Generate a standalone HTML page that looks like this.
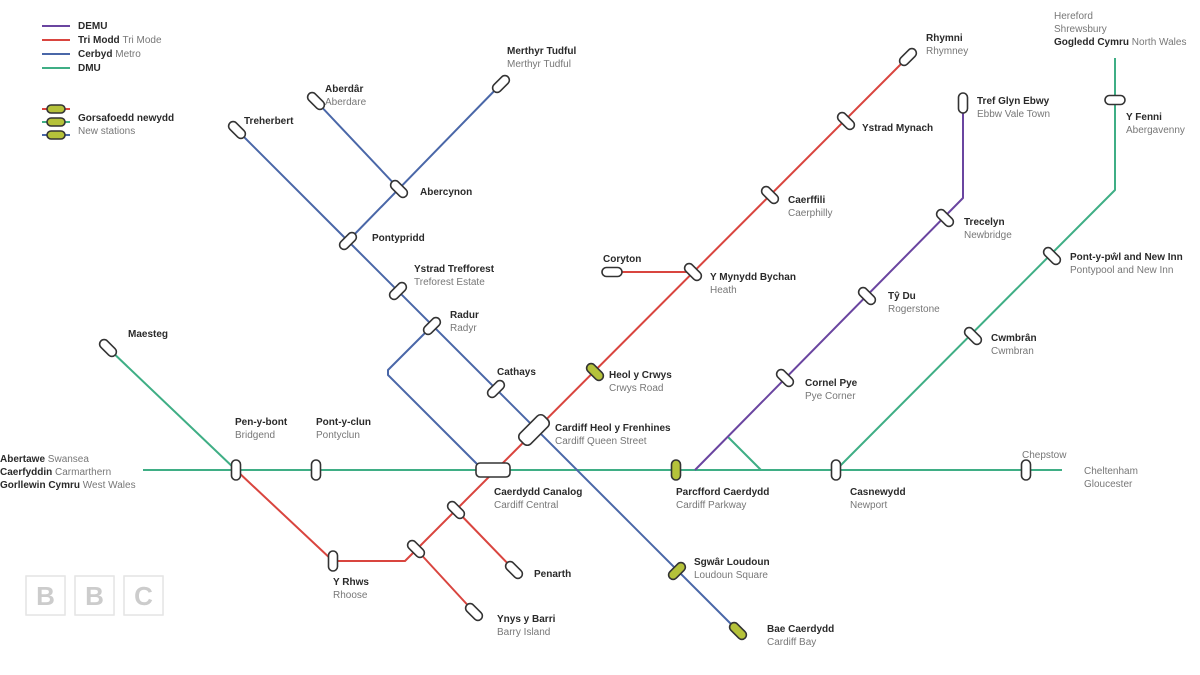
<!DOCTYPE html>
<html><head><meta charset="utf-8"><style>
html,body{margin:0;padding:0;background:#fff;}
svg{display:block;font-family:"Liberation Sans",sans-serif;}
.b{font-size:10px;font-weight:bold;fill:#2a2a2a;}
.g{font-size:10px;fill:#777;}
.st{fill:#fff;stroke:#333;stroke-width:1.6;}
.nw{fill:#b5c23a;stroke:#333;stroke-width:1.6;}
</style></head><body>
<svg width="1200" height="675" viewBox="0 0 1200 675">
<rect width="1200" height="675" fill="#fff"/>
<g fill="none" stroke-width="2" stroke-linejoin="round">
<!-- green -->
<path d="M143 470H1062" stroke="#3fae85"/>
<path d="M108 348L236 470" stroke="#3fae85"/>
<path d="M1115 58V190L836 470" stroke="#3fae85"/>
<path d="M728 437L761 470" stroke="#3fae85"/>
<!-- red -->
<path d="M908 57L405 561H333L236 470" stroke="#d9453f"/>
<path d="M416 549L474 612" stroke="#d9453f"/>
<path d="M456 510L514 570" stroke="#d9453f"/>
<path d="M612 272H693" stroke="#d9453f"/>
<!-- blue -->
<path d="M237 130L348 241L738 631" stroke="#4a67a8"/>
<path d="M316 101L399 189" stroke="#4a67a8"/>
<path d="M501 84L348 241" stroke="#4a67a8"/>
<path d="M432 326L388 370V375L483 470" stroke="#4a67a8"/>
<!-- purple -->
<path d="M963 103V198L695 470" stroke="#6a45a0"/>
</g>
<!-- legend -->
<g stroke-width="2">
<line x1="42" y1="26" x2="70" y2="26" stroke="#6a45a0"/>
<line x1="42" y1="40" x2="70" y2="40" stroke="#d9453f"/>
<line x1="42" y1="54" x2="70" y2="54" stroke="#4a67a8"/>
<line x1="42" y1="68" x2="70" y2="68" stroke="#3fae85"/>
<line x1="42" y1="109" x2="70" y2="109" stroke="#d9453f"/>
<line x1="42" y1="122" x2="70" y2="122" stroke="#3fae85"/>
<line x1="42" y1="135" x2="70" y2="135" stroke="#4a67a8"/>
</g>
<rect x="47" y="105" width="18" height="8" rx="4" class="nw"/>
<rect x="47" y="118" width="18" height="8" rx="4" class="nw"/>
<rect x="47" y="131" width="18" height="8" rx="4" class="nw"/>
<text x="78" y="29" class="b">DEMU</text>
<text x="78" y="43" class="b">Tri Modd <tspan class="g" font-weight="normal">Tri Mode</tspan></text>
<text x="78" y="57" class="b">Cerbyd <tspan class="g" font-weight="normal">Metro</tspan></text>
<text x="78" y="71" class="b">DMU</text>
<text x="78" y="121" class="b">Gorsafoedd newydd</text>
<text x="78" y="134" class="g">New stations</text>
<!-- stations -->
<g>
<rect class="st" x="-10" y="-4.5" width="20" height="9" rx="4.5" transform="translate(237,130) rotate(45)"/>
<rect class="st" x="-10" y="-4.5" width="20" height="9" rx="4.5" transform="translate(316,101) rotate(45)"/>
<rect class="st" x="-10" y="-4.5" width="20" height="9" rx="4.5" transform="translate(501,84) rotate(-45)"/>
<rect class="st" x="-10" y="-4.5" width="20" height="9" rx="4.5" transform="translate(399,189) rotate(45)"/>
<rect class="st" x="-10" y="-4.5" width="20" height="9" rx="4.5" transform="translate(348,241) rotate(-45)"/>
<rect class="st" x="-10" y="-4.5" width="20" height="9" rx="4.5" transform="translate(398,291) rotate(-45)"/>
<rect class="st" x="-10" y="-4.5" width="20" height="9" rx="4.5" transform="translate(432,326) rotate(-45)"/>
<rect class="st" x="-10" y="-4.5" width="20" height="9" rx="4.5" transform="translate(496,389) rotate(-45)"/>
<rect class="st" x="-17" y="-7.5" width="34" height="15" rx="5" transform="translate(534,430) rotate(-45)"/>
<rect class="nw" x="-10" y="-4.5" width="20" height="9" rx="4.5" transform="translate(677,571) rotate(-45)"/>
<rect class="nw" x="-10" y="-4.5" width="20" height="9" rx="4.5" transform="translate(738,631) rotate(45)"/>
<rect class="st" x="-10" y="-4.5" width="20" height="9" rx="4.5" transform="translate(908,57) rotate(-45)"/>
<rect class="st" x="-10" y="-4.5" width="20" height="9" rx="4.5" transform="translate(846,121) rotate(45)"/>
<rect class="st" x="-10" y="-4.5" width="20" height="9" rx="4.5" transform="translate(770,195) rotate(45)"/>
<rect class="st" x="-10" y="-4.5" width="20" height="9" rx="4.5" transform="translate(693,272) rotate(45)"/>
<rect class="st" x="-10" y="-4.5" width="20" height="9" rx="4.5" transform="translate(612,272)"/>
<rect class="nw" x="-10" y="-4.5" width="20" height="9" rx="4.5" transform="translate(595,372) rotate(45)"/>
<rect class="st" x="-10" y="-4.5" width="20" height="9" rx="4.5" transform="translate(456,510) rotate(45)"/>
<rect class="st" x="-10" y="-4.5" width="20" height="9" rx="4.5" transform="translate(416,549) rotate(45)"/>
<rect class="st" x="-10" y="-4.5" width="20" height="9" rx="4.5" transform="translate(514,570) rotate(45)"/>
<rect class="st" x="-10" y="-4.5" width="20" height="9" rx="4.5" transform="translate(474,612) rotate(45)"/>
<rect class="st" x="-10" y="-4.5" width="20" height="9" rx="4.5" transform="translate(333,561) rotate(90)"/>
<rect class="st" x="-10" y="-4.5" width="20" height="9" rx="4.5" transform="translate(108,348) rotate(45)"/>
<rect class="st" x="-10" y="-4.5" width="20" height="9" rx="4.5" transform="translate(236,470) rotate(90)"/>
<rect class="st" x="-10" y="-4.5" width="20" height="9" rx="4.5" transform="translate(316,470) rotate(90)"/>
<rect class="st" x="-17" y="-7" width="34" height="14" rx="4" transform="translate(493,470)"/>
<rect class="nw" x="-10" y="-4.5" width="20" height="9" rx="4.5" transform="translate(676,470) rotate(90)"/>
<rect class="st" x="-10" y="-4.5" width="20" height="9" rx="4.5" transform="translate(836,470) rotate(90)"/>
<rect class="st" x="-10" y="-4.5" width="20" height="9" rx="4.5" transform="translate(1026,470) rotate(90)"/>
<rect class="st" x="-10" y="-4.5" width="20" height="9" rx="4.5" transform="translate(963,103) rotate(90)"/>
<rect class="st" x="-10" y="-4.5" width="20" height="9" rx="4.5" transform="translate(945,218) rotate(45)"/>
<rect class="st" x="-10" y="-4.5" width="20" height="9" rx="4.5" transform="translate(867,296) rotate(45)"/>
<rect class="st" x="-10" y="-4.5" width="20" height="9" rx="4.5" transform="translate(785,378) rotate(45)"/>
<rect class="st" x="-10" y="-4.5" width="20" height="9" rx="4.5" transform="translate(1115,100)"/>
<rect class="st" x="-10" y="-4.5" width="20" height="9" rx="4.5" transform="translate(1052,256) rotate(45)"/>
<rect class="st" x="-10" y="-4.5" width="20" height="9" rx="4.5" transform="translate(973,336) rotate(45)"/>
</g>
<!-- labels -->
<text x="244" y="124" class="b">Treherbert</text>
<text x="325" y="92" class="b">Aberdâr</text><text x="325" y="105" class="g">Aberdare</text>
<text x="507" y="54" class="b">Merthyr Tudful</text><text x="507" y="67" class="g">Merthyr Tudful</text>
<text x="420" y="195" class="b">Abercynon</text>
<text x="372" y="241" class="b">Pontypridd</text>
<text x="414" y="272" class="b">Ystrad Trefforest</text><text x="414" y="285" class="g">Treforest Estate</text>
<text x="450" y="318" class="b">Radur</text><text x="450" y="331" class="g">Radyr</text>
<text x="497" y="375" class="b">Cathays</text>
<text x="555" y="431" class="b">Cardiff Heol y Frenhines</text><text x="555" y="444" class="g">Cardiff Queen Street</text>
<text x="494" y="495" class="b">Caerdydd Canalog</text><text x="494" y="508" class="g">Cardiff Central</text>
<text x="694" y="565" class="b">Sgwâr Loudoun</text><text x="694" y="578" class="g">Loudoun Square</text>
<text x="767" y="632" class="b">Bae Caerdydd</text><text x="767" y="645" class="g">Cardiff Bay</text>
<text x="926" y="41" class="b">Rhymni</text><text x="926" y="54" class="g">Rhymney</text>
<text x="862" y="131" class="b">Ystrad Mynach</text>
<text x="788" y="203" class="b">Caerffili</text><text x="788" y="216" class="g">Caerphilly</text>
<text x="710" y="280" class="b">Y Mynydd Bychan</text><text x="710" y="293" class="g">Heath</text>
<text x="603" y="262" class="b">Coryton</text>
<text x="609" y="378" class="b">Heol y Crwys</text><text x="609" y="391" class="g">Crwys Road</text>
<text x="534" y="577" class="b">Penarth</text>
<text x="497" y="622" class="b">Ynys y Barri</text><text x="497" y="635" class="g">Barry Island</text>
<text x="333" y="585" class="b">Y Rhws</text><text x="333" y="598" class="g">Rhoose</text>
<text x="128" y="337" class="b">Maesteg</text>
<text x="235" y="425" class="b">Pen-y-bont</text><text x="235" y="438" class="g">Bridgend</text>
<text x="316" y="425" class="b">Pont-y-clun</text><text x="316" y="438" class="g">Pontyclun</text>
<text x="0" y="462" class="b">Abertawe <tspan class="g" font-weight="normal">Swansea</tspan></text>
<text x="0" y="475" class="b">Caerfyddin <tspan class="g" font-weight="normal">Carmarthern</tspan></text>
<text x="0" y="488" class="b">Gorllewin Cymru <tspan class="g" font-weight="normal">West Wales</tspan></text>
<text x="676" y="495" class="b">Parcfford Caerdydd</text><text x="676" y="508" class="g">Cardiff Parkway</text>
<text x="850" y="495" class="b">Casnewydd</text><text x="850" y="508" class="g">Newport</text>
<text x="1022" y="458" class="g">Chepstow</text>
<text x="1084" y="474" class="g">Cheltenham</text><text x="1084" y="487" class="g">Gloucester</text>
<text x="977" y="104" class="b">Tref Glyn Ebwy</text><text x="977" y="117" class="g">Ebbw Vale Town</text>
<text x="964" y="225" class="b">Trecelyn</text><text x="964" y="238" class="g">Newbridge</text>
<text x="888" y="299" class="b">Tŷ Du</text><text x="888" y="312" class="g">Rogerstone</text>
<text x="805" y="386" class="b">Cornel Pye</text><text x="805" y="399" class="g">Pye Corner</text>
<text x="1054" y="19" class="g">Hereford</text><text x="1054" y="32" class="g">Shrewsbury</text>
<text x="1054" y="45" class="b">Gogledd Cymru <tspan class="g" font-weight="normal">North Wales</tspan></text>
<text x="1126" y="120" class="b">Y Fenni</text><text x="1126" y="133" class="g">Abergavenny</text>
<text x="1070" y="260" class="b">Pont-y-pŵl and New Inn</text><text x="1070" y="273" class="g">Pontypool and New Inn</text>
<text x="991" y="341" class="b">Cwmbrân</text><text x="991" y="354" class="g">Cwmbran</text>
<!-- BBC -->
<g font-size="26" font-weight="bold" fill="#ccc" text-anchor="middle">
<rect x="26" y="576" width="39" height="39" fill="#fff" stroke="#e4e4e4" stroke-width="1.5"/>
<rect x="75" y="576" width="39" height="39" fill="#fff" stroke="#e4e4e4" stroke-width="1.5"/>
<rect x="124" y="576" width="39" height="39" fill="#fff" stroke="#e4e4e4" stroke-width="1.5"/>
<text x="45.5" y="605">B</text><text x="94.5" y="605">B</text><text x="143.5" y="605">C</text>
</g>
</svg>
</body></html>
